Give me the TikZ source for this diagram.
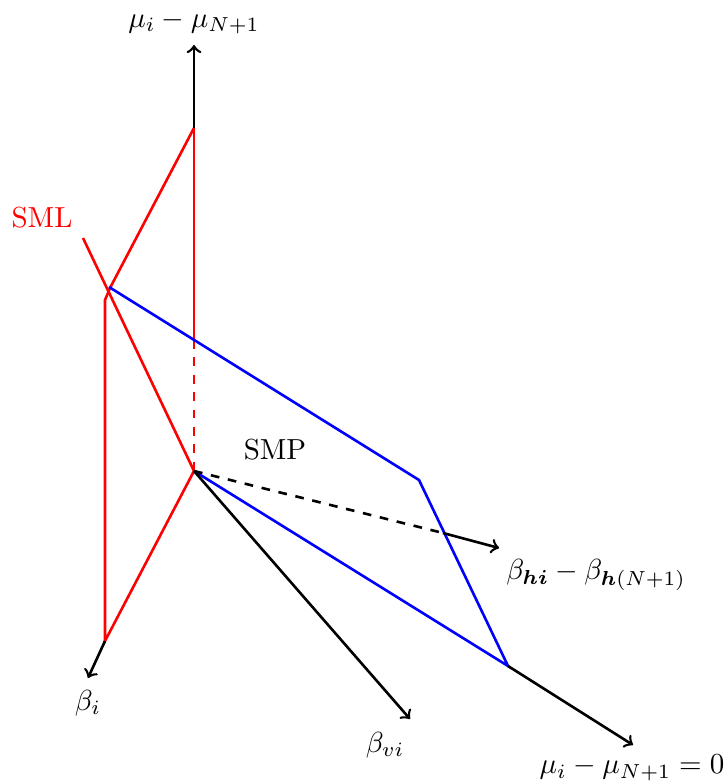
\documentclass[tikz,border=0pt]{standalone}
\usepackage{bm}
\begin{document}
\begin{tikzpicture}[x=0.3448pt,y=-0.3448pt,
  axis/.style={line width=0.9pt,->},
  redl/.style={line width=0.9pt,red},
  bluel/.style={line width=0.9pt,blue},
  lbl/.style={inner sep=0pt}]
\useasboundingbox (0,0) rectangle (727,781);
% points
\coordinate (O) at (194,471);
\coordinate (Vtop) at (194,45);
\coordinate (Vr) at (194,128);
\coordinate (Vd) at (194,340);
\coordinate (Bi) at (88,678);
\coordinate (Bic) at (105,641);
\coordinate (Bvi) at (410,719);
\coordinate (Mz) at (633,745);
\coordinate (Mzc) at (508,666);
\coordinate (Bh) at (499,548);
\coordinate (Bhc) at (443,533);
\coordinate (Sml) at (83,238);
\coordinate (K1) at (110,288);
\coordinate (K2) at (105,300);
\coordinate (P1) at (109,287);
\coordinate (P3) at (419,480);
% red
\draw[redl] (Sml) -- (O);
\draw[redl] (Vr) -- (Vd);
\draw[redl,dashed] (Vd) -- (O);
\draw[redl] (Vr) -- (K1) -- (K2) -- (Bic) -- (O);
% blue
\draw[bluel] (P1) -- (P3) -- (Mzc) -- (O);
% axes
\draw[axis] (Vr) -- (Vtop);
\draw[axis] (Bic) -- (Bi);
\draw[axis] (O) -- (Bvi);
\draw[axis] (Mzc) -- (Mz);
\draw[line width=0.9pt,dashed] (O) -- (Bhc);
\draw[axis] (Bhc) -- (Bh);
% labels
\node[lbl] (lmu) at (194,22) {$\mu_i-\mu_{N+1}$};
\node[lbl] (lbi) at (88,703) {$\beta_i$};
\node[lbl] (lbvi) at (385,745) {$\beta_{vi}$};
\node[lbl] (lmz) at (632,768) {$\mu_i-\mu_{N+1}=0$};
\node[lbl] (lbh) at (596,575) {$\beta_{\bm{hi}}-\beta_{\bm{h}(N+1)}$};
\node[lbl,text=red] (lsml) at (42,218) {SML};
\node[lbl] (lsmp) at (275,450) {SMP};
\end{tikzpicture}
\end{document}
